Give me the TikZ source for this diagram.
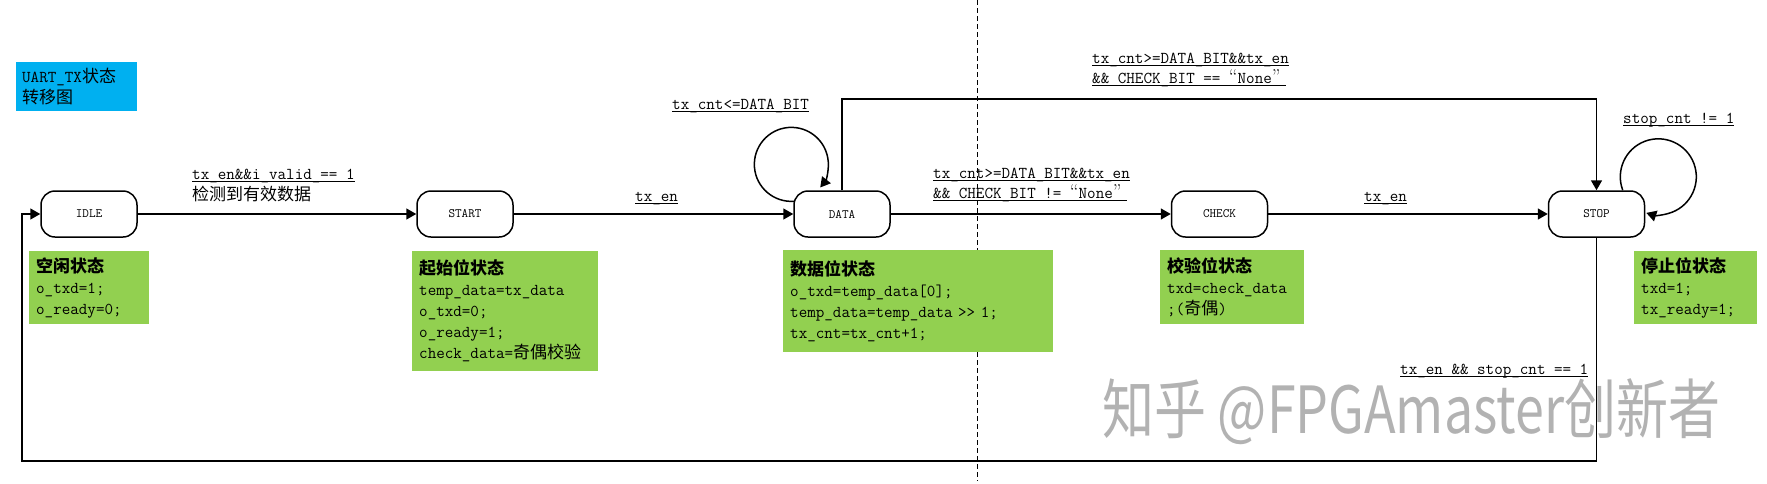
\documentclass[tikz,border=0pt]{standalone}
\usepackage{fontspec}
\newfontfamily\cjkfont{Noto Sans CJK SC}
\usetikzlibrary{arrows.meta}
\definecolor{notegreen}{RGB}{146,208,80}
\definecolor{titleblue}{RGB}{0,176,240}
\newcommand{\zh}[1]{{\cjkfont\fontsize{17}{21}\selectfont #1}}
\newcommand{\zhb}[1]{{\cjkfont\bfseries\fontsize{17}{21}\selectfont #1}}
\newcommand{\ulx}[1]{\setbox0\hbox{#1}\rlap{\rule[-3pt]{\wd0}{1.1pt}}\box0}
\newcommand{\oq}{{\rmfamily\fontsize{20}{21}\selectfont “}}
\newcommand{\cq}{{\rmfamily\fontsize{20}{21}\selectfont ”}\kern5pt}
\begin{document}
\begin{tikzpicture}[x=1pt,y=-1pt,
  state/.style={draw, line width=1.5pt, rounded corners=14pt, minimum width=96pt,
    minimum height=46pt, inner sep=0pt, font=\ttfamily\fontsize{12.8}{14}\selectfont},
  note/.style={fill=notegreen, anchor=north west, align=left, inner xsep=7pt,
    inner ysep=0pt, font=\ttfamily\fontsize{16.6}{21}\selectfont},
  lbl/.style={anchor=base west, inner sep=0pt, font=\ttfamily\fontsize{16.6}{21}\selectfont},
  arr/.style={line width=1.5pt, -{Triangle[length=10pt,width=11pt]}},
  divider/.style={line width=0.9pt, dash pattern=on 5pt off 3pt}]
\useasboundingbox (0,0) rectangle (1767,483);

% dashed divider
\coordinate (dtop) at (977,0);
\coordinate (dbot) at (977,481);
\draw[divider] (dtop) -- (dbot);

% watermark
\node[anchor=base west, inner sep=0pt, text=black!30,
  font=\cjkfont\fontsize{52}{60}\selectfont] (wm) at (1102,433)
  {\scalebox{1}[1.25]{知乎 @FPGAmaster创新者}};

% title
\node[fill=titleblue, anchor=north west, align=left, inner xsep=6pt, inner ysep=0pt,
  text width=109pt, minimum height=49pt, font=\ttfamily\fontsize{16.6}{21}\selectfont]
  (title) at (16,62) {UART\_TX\zh{状态}\\\zh{转移图}};

% states
\node[state] (idle)  at (89,214)   {IDLE};
\node[state] (start) at (465,214)  {START};
\node[state] (data)  at (842,214)  {DATA};
\node[state] (check) at (1219.5,214) {CHECK};
\node[state] (stop)  at (1596.5,214) {STOP};

% notes
\node[note, text width=106pt, minimum height=73pt] (nidle) at (29,251)
  {\zhb{空闲状态}\\o\_txd=1;\\o\_ready=0;};
\node[note, text width=172pt, minimum height=120pt] (nstart) at (412,251)
  {\zhb{起始位状态}\\temp\_data=tx\_data\\o\_txd=0;\\o\_ready=1;\\check\_data=\zh{奇偶校验}};
\node[note, text width=256pt, minimum height=102pt] (ndata) at (783,250)
  {\zhb{数据位状态}\\o\_txd=temp\_data[0];\\temp\_data=temp\_data >{}> 1;\\tx\_cnt=tx\_cnt+1;};
\node[note, text width=130pt, minimum height=74pt] (ncheck) at (1160,250)
  {\zhb{校验位状态}\\txd=check\_data\\;(\zh{奇偶})};
\node[note, text width=109pt, minimum height=73pt] (nstop) at (1634,251)
  {\zhb{停止位状态}\\txd=1;\\tx\_ready=1;};

% transitions
\draw[arr] (idle) -- (start);
\draw[arr] (start) -- (data);
\draw[arr] (data) -- (check);
\draw[arr] (check) -- (stop);

\coordinate (topy) at (0,99);
\draw[arr] (data.north) -- (data.north |- topy) -| (stop.north);

\coordinate (boty) at (0,461);
\coordinate (leftx) at (22,0);
\draw[arr] (stop.south) -- (stop.south |- boty) -| (leftx |- idle.west) -- (idle.west);

% self loops
\draw[arr] ([shift={(1,11)}]data.north west) arc[start angle=85.5, end angle=398.7, radius=37];
\draw[arr] ([shift={(-22.5,0)}]stop.north east) arc[start angle=159.3, end angle=468.4, radius=38];

% labels
\node[lbl] (l1a) at (192,179) {\ulx{tx\_en\&\&i\_valid\_== 1}};
\node[lbl] (l1b) at (192,200) {\zh{检测到有效数据}};
\node[lbl] (l2)  at (635,201) {\ulx{tx\_en}};
\node[lbl] (l3)  at (672,109) {\ulx{tx\_cnt<=DATA\_BIT}};
\node[lbl] (l4a) at (933,178) {\ulx{tx\_cnt>=DATA\_BIT\&\&tx\_en}};
\node[lbl] (l4b) at (933,198) {\ulx{\&\& CHECK\_BIT != \oq None\cq}};
\node[lbl] (l5a) at (1092,63) {\ulx{tx\_cnt>=DATA\_BIT\&\&tx\_en}};
\node[lbl] (l5b) at (1092,83) {\ulx{\&\& CHECK\_BIT == \oq None\cq}};
\node[lbl] (l6)  at (1364,201) {\ulx{tx\_en}};
\node[lbl] (l7)  at (1623,123) {\ulx{stop\_cnt != 1}};
\node[lbl] (l8)  at (1400,374) {\ulx{tx\_en \&\& stop\_cnt == 1}};
\end{tikzpicture}
\end{document}
